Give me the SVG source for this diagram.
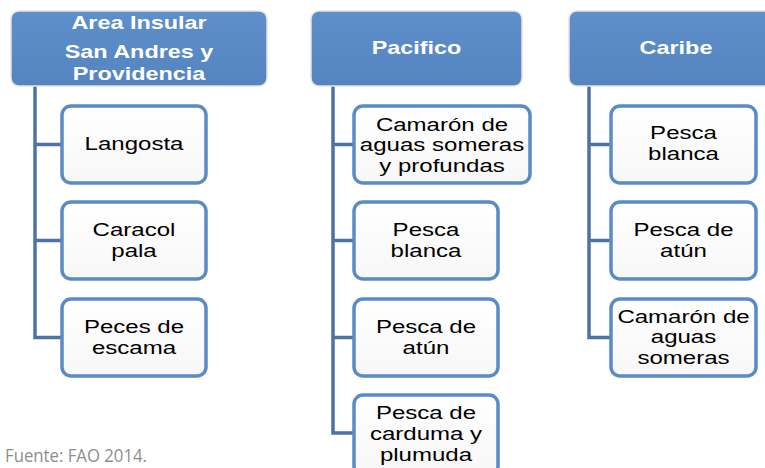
<svg xmlns="http://www.w3.org/2000/svg" width="765" height="468" viewBox="0 0 765 468">
<defs>
<linearGradient id="hg" x1="0" y1="0" x2="0" y2="1">
<stop offset="0" stop-color="#5E8FCB"/>
<stop offset="1" stop-color="#5585C1"/>
</linearGradient>
<linearGradient id="cg" x1="0" y1="0" x2="0" y2="1">
<stop offset="0" stop-color="#FFFFFF"/>
<stop offset="1" stop-color="#F7F7F7"/>
</linearGradient>
</defs>
<style>
.hd{fill:url(#hg);stroke:#E4E4E4;stroke-width:1.5}
.ch{fill:url(#cg);stroke:#5B8BC6;stroke-width:3.5}
.ht{font-family:"Liberation Sans",Arial,sans-serif;font-weight:bold;font-size:18px;fill:#FFFFFF;text-anchor:middle}
.ct{font-family:"Liberation Sans",Arial,sans-serif;font-size:18.5px;fill:#000000;text-anchor:middle}
.cn{fill:none;stroke:#4C72A6;stroke-width:3.5;stroke-linejoin:miter}
.src{font-family:"Open Sans","Liberation Sans",Arial,sans-serif;font-size:17.5px;fill:#8E8E8E}
</style>
<rect width="765" height="468" fill="#FFFFFF"/>

<g id="connectors">
<path class="cn" d="M35,85 V337.5 H61 M35,144.5 H61 M35,240.5 H61"/>
<path class="cn" d="M333,85 V433 H353 M333,144.5 H353 M333,240.5 H353 M333,337.5 H353"/>
<path class="cn" d="M589,85 V337.5 H610 M589,144.5 H610 M589,240.5 H610"/>
</g>

<g id="h-insular">
<rect class="hd" x="11" y="11" width="256" height="75" rx="8"/>
<g transform="translate(139,0) scale(1.3,1)">
<text class="ht" x="0" y="29">Area Insular</text>
<text class="ht" x="0" y="58">San Andres y</text>
<text class="ht" x="0" y="80">Providencia</text>
</g>
</g>

<g id="h-pacifico">
<rect class="hd" x="311" y="11" width="211" height="75" rx="8"/>
<g transform="translate(416.5,0) scale(1.3,1)">
<text class="ht" x="0" y="54">Pacifico</text>
</g>
</g>

<g id="h-caribe">
<rect class="hd" x="569" y="11" width="220" height="75" rx="8"/>
<g transform="translate(676,0) scale(1.3,1)">
<text class="ht" x="0" y="54">Caribe</text>
</g>
</g>

<g id="c-langosta">
<rect class="ch" x="62" y="106" width="144" height="77" rx="9"/>
<g transform="translate(134,0) scale(1.3,1)"><text class="ct" x="0" y="150.5">Langosta</text></g>
</g>
<g id="c-caracol">
<rect class="ch" x="62" y="202" width="144" height="77" rx="9"/>
<g transform="translate(134,0) scale(1.3,1)"><text class="ct" x="0" y="236">Caracol</text><text class="ct" x="0" y="257">pala</text></g>
</g>
<g id="c-peces">
<rect class="ch" x="62" y="299" width="144" height="77" rx="9"/>
<g transform="translate(134,0) scale(1.3,1)"><text class="ct" x="0" y="333">Peces de</text><text class="ct" x="0" y="354">escama</text></g>
</g>

<g id="c-camaron-pac">
<rect class="ch" x="354" y="106" width="176" height="77" rx="9"/>
<g transform="translate(442,0) scale(1.3,1)"><text class="ct" x="0" y="131">Camarón de</text><text class="ct" x="0" y="151.5">aguas someras</text><text class="ct" x="0" y="172">y profundas</text></g>
</g>
<g id="c-blanca-pac">
<rect class="ch" x="354" y="202" width="144" height="77" rx="9"/>
<g transform="translate(426,0) scale(1.3,1)"><text class="ct" x="0" y="236">Pesca</text><text class="ct" x="0" y="257">blanca</text></g>
</g>
<g id="c-atun-pac">
<rect class="ch" x="354" y="299" width="144" height="77" rx="9"/>
<g transform="translate(426,0) scale(1.3,1)"><text class="ct" x="0" y="333">Pesca de</text><text class="ct" x="0" y="354">atún</text></g>
</g>
<g id="c-carduma">
<rect class="ch" x="354" y="395" width="144" height="80" rx="9"/>
<g transform="translate(426,0) scale(1.3,1)"><text class="ct" x="0" y="419">Pesca de</text><text class="ct" x="0" y="440">carduma y</text><text class="ct" x="0" y="461">plumuda</text></g>
</g>

<g id="c-blanca-car">
<rect class="ch" x="611" y="106" width="145" height="77" rx="9"/>
<g transform="translate(683.5,0) scale(1.3,1)"><text class="ct" x="0" y="139.5">Pesca</text><text class="ct" x="0" y="160.5">blanca</text></g>
</g>
<g id="c-atun-car">
<rect class="ch" x="611" y="202" width="145" height="77" rx="9"/>
<g transform="translate(683.5,0) scale(1.3,1)"><text class="ct" x="0" y="236">Pesca de</text><text class="ct" x="0" y="257">atún</text></g>
</g>
<g id="c-camaron-car">
<rect class="ch" x="611" y="299" width="145" height="77" rx="9"/>
<g transform="translate(683.5,0) scale(1.3,1)"><text class="ct" x="0" y="323">Camarón de</text><text class="ct" x="0" y="343.5">aguas</text><text class="ct" x="0" y="364">someras</text></g>
</g>

<text class="src" x="5" y="462" textLength="142" lengthAdjust="spacingAndGlyphs">Fuente: FAO 2014.</text>
</svg>
